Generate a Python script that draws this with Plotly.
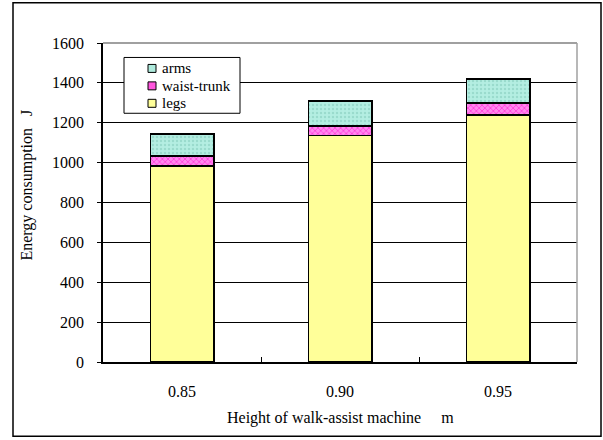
import plotly.graph_objects as go

heights = ["0.85", "0.90", "0.95"]
legs = [982, 1136, 1239]
waist_trunk = [50, 49, 60]
arms = [110, 124, 119]
y_ticks = [0, 200, 400, 600, 800, 1000, 1200, 1400, 1600]
legend_names = ["arms", "waist-trunk", "legs"]
legend_colors = ["#aeeadc", "#ff55dd", "#ffff99"]

font_family = "Times New Roman, Liberation Serif, serif"

# plot area in pixels
L, R, T, B = 103, 577, 42.5, 362.5


def px_x(x):
    return (x - L) / (R - L)


def px_y(y):
    return (B - y) / (B - T)


fig = go.Figure()
fig.add_trace(go.Bar(
    x=heights, y=legs, name="legs",
    marker=dict(color="#ffff99", line=dict(color="#000000", width=1.8)),
))
fig.add_trace(go.Bar(
    x=heights, y=waist_trunk, name="waist-trunk",
    marker=dict(color="#ff55dd", line=dict(color="#000000", width=1.8),
                pattern=dict(shape="x", fgcolor="#ff00cc", bgcolor="#ff88ee", size=4, solidity=0.4)),
))
fig.add_trace(go.Bar(
    x=heights, y=arms, name="arms",
    marker=dict(color="#aeeadc", line=dict(color="#000000", width=1.8),
                pattern=dict(shape=".", fgcolor="#80c8b8", bgcolor="#b4eee2", size=4, solidity=0.3)),
))

shapes = [
    dict(type="line", xref="paper", yref="paper", x0=0, x1=1, y0=1, y1=1,
         line=dict(color="#808080", width=1.5)),
    dict(type="line", xref="paper", yref="paper", x0=1, x1=1, y0=0, y1=1,
         line=dict(color="#a0a0a0", width=1.5)),
    dict(type="rect", xref="paper", yref="paper",
         x0=px_x(13), x1=px_x(601), y0=px_y(437), y1=px_y(2),
         line=dict(color="#000000", width=1.5), layer="below"),
    # legend box
    dict(type="rect", xref="paper", yref="paper",
         x0=px_x(124), x1=px_x(240), y0=px_y(113), y1=px_y(57),
         fillcolor="white", line=dict(color="#000000", width=1), layer="above"),
]
annotations = []
item_y = [68, 85.5, 103]
for name, col, yy in zip(legend_names, legend_colors, item_y):
    shapes.append(dict(type="rect", xref="paper", yref="paper",
                       x0=px_x(148), x1=px_x(156), y0=px_y(yy + 4), y1=px_y(yy - 4),
                       fillcolor=col, line=dict(color="#000000", width=1), layer="above"))
    annotations.append(dict(text=name, xref="paper", yref="paper",
                            x=px_x(160), y=px_y(yy), xanchor="left", yanchor="middle",
                            showarrow=False, font=dict(family=font_family, size=15, color="#000000")))

annotations.append(dict(text="Height of walk-assist machine\u2003 m", xref="paper", yref="paper",
                        x=0.5, y=px_y(419), xanchor="center", yanchor="middle", showarrow=False,
                        font=dict(family=font_family, size=16, color="#000000")))
annotations.append(dict(text="Energy consumption\u2002 J", xref="paper", yref="paper",
                        x=px_x(27), y=px_y(185.5), xanchor="center", yanchor="middle", showarrow=False,
                        textangle=-90, font=dict(family=font_family, size=16, color="#000000")))

fig.update_layout(
    barmode="stack",
    bargap=0.6,
    width=603, height=440,
    margin=dict(l=L, r=603 - R, t=T, b=440 - B),
    paper_bgcolor="white", plot_bgcolor="white",
    font=dict(family=font_family, size=16, color="#000000"),
    showlegend=False,
    xaxis=dict(
        type="category",
        showline=True, linecolor="#000000", linewidth=1.5,
        ticks="inside", ticklen=5, tickcolor="#000000", tickson="boundaries",
        ticklabelstandoff=14,
        showgrid=False,
        tickfont=dict(family=font_family, size=16),
    ),
    yaxis=dict(
        range=[0, 1600],
        tickvals=y_ticks,
        showline=True, linecolor="#000000", linewidth=1.5,
        ticks="outside", ticklen=4, tickcolor="#000000",
        ticklabelstandoff=10,
        showgrid=True, gridcolor="#000000", gridwidth=1,
        zeroline=False,
        tickfont=dict(family=font_family, size=16),
    ),
    shapes=shapes,
    annotations=annotations,
)

fig.write_html("out.html")
